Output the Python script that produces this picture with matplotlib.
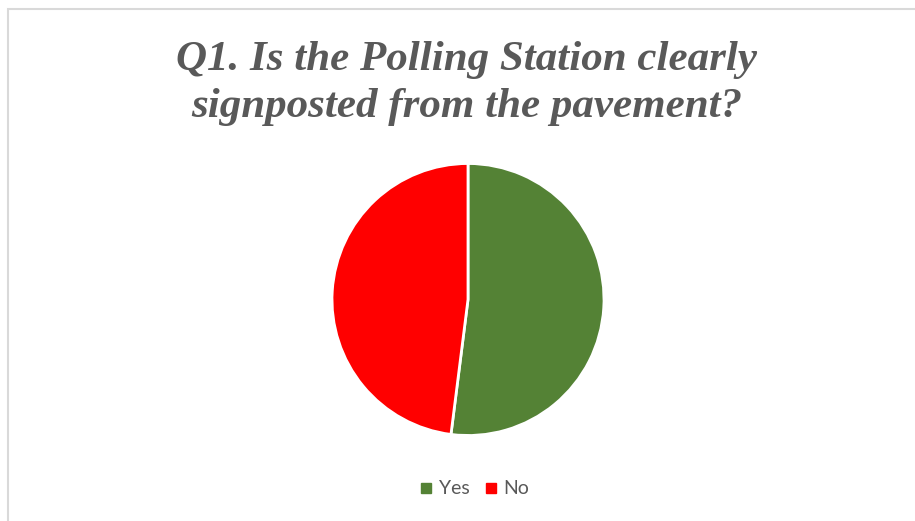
import matplotlib
matplotlib.use("Agg")
import matplotlib.pyplot as plt
from matplotlib.patches import Rectangle
from matplotlib.lines import Line2D

categories = ["Yes", "No"]
values = [52, 48]
colors = ["#548235", "#FF0000"]
title_lines = ["Q1. Is the Polling Station clearly", "signposted from the pavement?"]

W, H = 915, 521
fig = plt.figure(figsize=(W/100, H/100), dpi=100)
fig.patch.set_facecolor("white")

# border (right and bottom edges fall outside the image)
fig.add_artist(Rectangle((8/W, -0.2), 1.2, (H-9)/H + 0.2, transform=fig.transFigure,
                         fill=False, edgecolor="#d9d9d9", linewidth=1.5))

cx, cy, r = 468, 299.5, 136
ax = fig.add_axes([(cx-r)/W, (H-cy-r)/H, 2*r/W, 2*r/H])
ax.pie(values, colors=colors, startangle=90, counterclock=False, radius=1,
       wedgeprops=dict(edgecolor="white", linewidth=2))
ax.set_xlim(-1, 1); ax.set_ylim(-1, 1)
ax.set_aspect("equal")
ax.axis("off")

for line, base in zip(title_lines, [70, 117]):
    fig.text(467/W, 1-base/H, line, ha="center", va="baseline", fontsize=31,
             family="Liberation Serif", fontweight="bold", fontstyle="italic",
             color="#595959")

handles = [Line2D([0], [0], marker="s", linestyle="none", markersize=7,
                  markerfacecolor=c, markeredgecolor=c) for c in colors]
fig.legend(handles, categories, loc="center", bbox_to_anchor=(473/W, 1-489/H),
           ncol=2, frameon=False, prop=dict(family="Lato", size=14),
           labelcolor="#595959", handletextpad=0.15, columnspacing=0.6,
           handlelength=1.0)

fig.savefig("out.png", dpi=100)
